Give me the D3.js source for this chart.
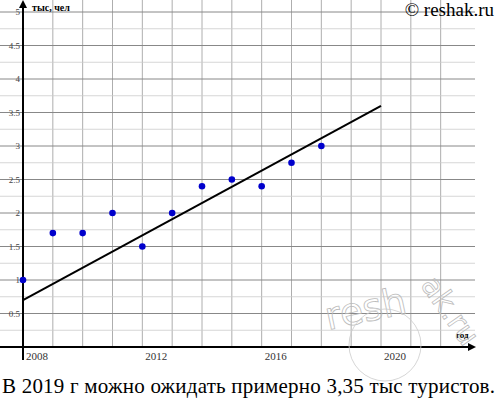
<!DOCTYPE html>
<html><head><meta charset="utf-8">
<script src="https://cdn.jsdelivr.net/npm/d3@7"></script>
<style>body{margin:0;background:#fff} text{font-family:"Liberation Serif","DejaVu Serif",serif}</style>
</head><body>
<svg id="chart" width="498" height="401"></svg>
<script>
const years = [2008, 2009, 2010, 2011, 2012, 2013, 2014, 2015, 2016, 2017, 2018]
const tourists = [1, 1.7, 1.7, 2, 1.5, 2, 2.4, 2.5, 2.4, 2.75, 3]
const trendYears = [2008, 2020]
const trendValues = [0.7, 3.6]
const xTicks = [2008, 2012, 2016, 2020]
const yTicks = [0.5, 1, 1.5, 2, 2.5, 3, 3.5, 4, 4.5, 5]

const svg = d3.select('#chart')
const x = d3.scaleLinear().domain([2008, 2020]).range([23, 381])
const y = d3.scaleLinear().domain([0, 5]).range([347, 12])

// grid
const g = svg.append('g')
d3.range(2009, 2023).forEach(yr => {
	g.append('line').attr('x1', x(yr)).attr('x2', x(yr)).attr('y1', 0).attr('y2', 347)
		.attr('stroke', '#999').attr('stroke-width', 0.8)
})
d3.range(0.25, 5.3, 0.25).forEach(v => {
	const major = Math.abs(v * 2 - Math.round(v * 2)) < 1e-6
	g.append('line').attr('x1', 0).attr('x2', 475).attr('y1', y(v)).attr('y2', y(v))
		.attr('stroke', major ? '#888' : '#ccc').attr('stroke-width', major ? 1 : 0.8)
})

// axes
svg.append('line').attr('x1', x(2008)).attr('x2', x(2008)).attr('y1', 4).attr('y2', 360)
	.attr('stroke', '#000').attr('stroke-width', 2)
svg.append('path').attr('d', `M${x(2008)-4},8 L${x(2008)},0 L${x(2008)+4},8Z`)
svg.append('line').attr('x1', 0).attr('x2', 470).attr('y1', 347).attr('y2', 347)
	.attr('stroke', '#000').attr('stroke-width', 2)
svg.append('path').attr('d', 'M468,343 L476,347 L468,351Z')

svg.selectAll('.ylab').data(yTicks).enter().append('text')
	.attr('x', 20).attr('y', d => y(d) + 3).attr('text-anchor', 'end')
	.attr('font-size', 9).attr('fill', '#444')
	.text(d => String(d))
svg.selectAll('.xlab').data(xTicks).enter().append('text')
	.attr('x', d => x(d) + 3).attr('y', 360)
	.attr('font-size', 11).attr('fill', '#333')
	.text(d => d)
svg.append('text').attr('x', 32).attr('y', 11)
	.attr('font-size', 10).attr('font-weight', 'bold').text('тыс, чел')
svg.append('text').attr('x', 456).attr('y', 338)
	.attr('font-size', 9).attr('font-weight', 'bold').text('год')

// watermark
svg.append('text').attr('transform', 'translate(328,330) rotate(-12)')
	.style('font-family', 'DejaVu Sans').attr('font-size', 38).attr('fill', 'none')
	.attr('stroke', '#bbb').attr('stroke-width', 0.8).text('resh')
svg.append('text').attr('transform', 'translate(420,285) rotate(55)')
	.style('font-family', 'DejaVu Sans').attr('font-size', 30).attr('fill', 'none')
	.attr('stroke', '#bbb').attr('stroke-width', 0.8).text('ak.ru')
svg.append('circle').attr('cx', 385).attr('cy', 345).attr('r', 36)
	.attr('fill', 'none').attr('stroke', '#ccc').attr('stroke-width', 0.8)

// trend line
svg.append('line').attr('x1', x(trendYears[0])).attr('y1', y(trendValues[0]))
	.attr('x2', x(trendYears[1])).attr('y2', y(trendValues[1]))
	.attr('stroke', '#000').attr('stroke-width', 2)

// points
svg.selectAll('.pt').data(years).enter().append('circle')
	.attr('cx', d => x(d)).attr('cy', (d, i) => y(tourists[i])).attr('r', 3.3)
	.attr('fill', '#0000cc')

svg.append('text').attr('x', 494).attr('y', 16).attr('text-anchor', 'end')
	.attr('font-size', 19).text('© reshak.ru')
svg.append('text').attr('x', 2).attr('y', 393)
	.attr('font-size', 21).attr('textLength', 493).text('В 2019 г можно ожидать примерно 3,35 тыс туристов.')
</script>
</body></html>
